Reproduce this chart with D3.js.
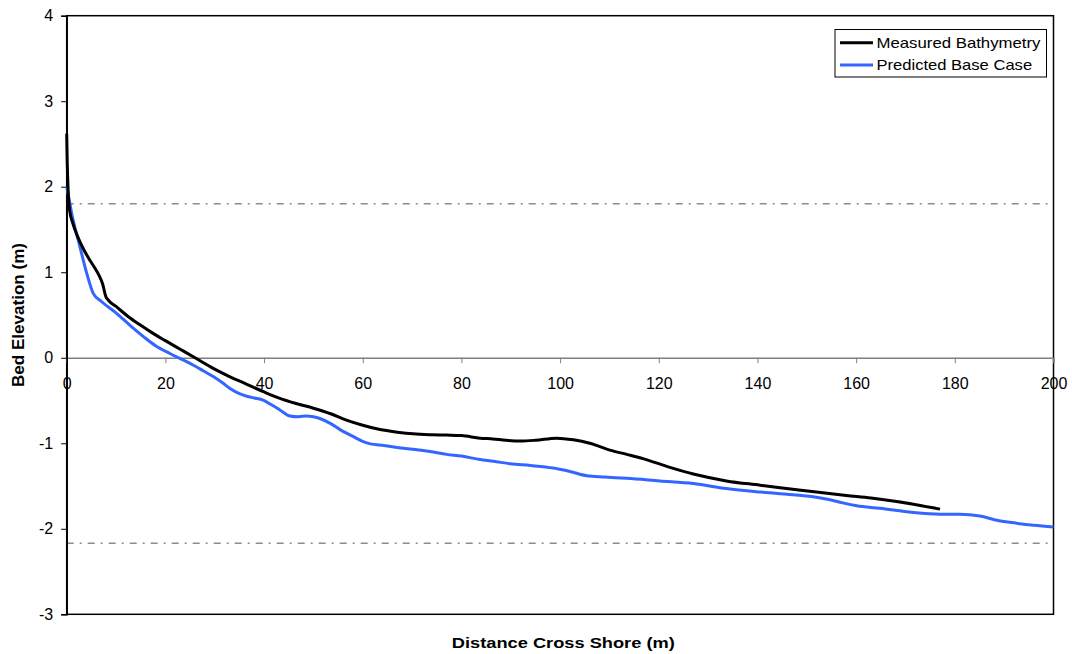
<!DOCTYPE html>
<html>
<head>
<meta charset="utf-8">
<script src="https://cdn.jsdelivr.net/npm/d3@7"></script>
<style>
  html, body { margin: 0; padding: 0; background: #fff; }
  svg { display: block; }
  text { font-family: "Liberation Sans", Arial, sans-serif; }
</style>
</head>
<body>
<svg id="chart" width="1072" height="654"></svg>
<script>
// Cross-shore profile: distance (m) and bed elevation (m)
const measuredX = [0, 0.1, 0.3, 0.6, 1.2, 2.2, 3.5, 4.7, 5.7, 6.5, 7.3, 7.9, 8.5, 10, 12.5, 15, 17.5, 20, 23, 26,
  29.7, 33, 36.5, 40, 43.2, 46.5, 50, 53.5, 56.7, 60, 63.5, 67, 70.2, 74, 77, 80, 83.8, 86.4, 89, 91.9, 95, 99.3,
  102.7, 106, 110.1, 113.5, 116.8, 121.6, 127, 133.7, 140.5, 144.6, 150.6, 158, 163, 168.2, 177];
const measuredY = [2.62, 2.3, 1.95, 1.72, 1.58, 1.42, 1.26, 1.14, 1.05, 0.97, 0.86, 0.72, 0.67, 0.6, 0.48, 0.38, 0.285, 0.2, 0.1, 0.0,
  -0.124, -0.22, -0.31, -0.4, -0.475, -0.535, -0.59, -0.655, -0.73, -0.79, -0.84, -0.87, -0.89, -0.9, -0.904, -0.91, -0.94, -0.95, -0.965, -0.974, -0.965, -0.94,
  -0.96, -1.0, -1.08, -1.13, -1.18, -1.27, -1.36, -1.44, -1.49, -1.52, -1.56, -1.61, -1.64, -1.68, -1.77];

const predictedX = [0, 0.5, 1.15, 2.5, 4.05, 5.4, 7.1, 10.1, 13, 15.5, 18, 20.9, 23, 25, 27, 29.7, 31.5, 33.1, 35, 36.5, 38, 39.8,
  41.5, 43.2, 45.2, 47, 48.6, 50, 51.3, 53.5, 55.4, 58, 60.1, 61.8, 63.5, 67, 70.2, 74, 77, 80, 83.8, 86.5, 89.9, 94, 98.6,
  102, 105.4, 109, 113.5, 120.2, 127, 133.7, 140.5, 144.6, 150.6, 154.7, 157.5, 160.1, 164.8, 171.5, 177, 181, 185.1, 188.5, 191.9, 196, 200];
const predictedY = [2.0, 1.85, 1.65, 1.34, 0.99, 0.75, 0.655, 0.52, 0.37, 0.25, 0.14, 0.05, -0.01, -0.065, -0.13, -0.22, -0.29, -0.36, -0.42, -0.45, -0.47, -0.495,
  -0.55, -0.61, -0.68, -0.69, -0.68, -0.69, -0.71, -0.77, -0.84, -0.92, -0.98, -1.01, -1.02, -1.05, -1.07, -1.1, -1.13, -1.15, -1.19, -1.21, -1.24, -1.26, -1.29,
  -1.33, -1.38, -1.395, -1.41, -1.44, -1.47, -1.53, -1.57, -1.59, -1.62, -1.66, -1.7, -1.73, -1.76, -1.81, -1.83, -1.83, -1.85, -1.9, -1.93, -1.96, -1.98];

// Reference water levels (dash-dot lines)
const levelLines = [1.8, -2.17];

const xTicks = [0, 20, 40, 60, 80, 100, 120, 140, 160, 180, 200];
const yTicks = [-3, -2, -1, 0, 1, 2, 3, 4];

const seriesNames = ["Measured Bathymetry", "Predicted Base Case"];
const seriesColors = ["#000000", "#3366ff"];

const svg = d3.select("#chart");
const plot = { left: 66.7, top: 15.7, right: 1053.5, bottom: 614.3 };

const x = d3.scaleLinear().domain([0, 200]).range([plot.left, plot.right]);
const y = d3.scaleLinear().domain([-3, 4]).range([plot.bottom, plot.top]);

// Frame
svg.append("rect")
  .attr("x", plot.left).attr("y", plot.top)
  .attr("width", plot.right - plot.left).attr("height", plot.bottom - plot.top)
  .attr("fill", "none").attr("stroke", "#000").attr("stroke-width", 1.5);

// Level lines
svg.selectAll("line.level").data(levelLines).enter().append("line")
  .attr("class", "level")
  .attr("x1", plot.left).attr("x2", plot.right)
  .attr("y1", d => y(d)).attr("y2", d => y(d))
  .attr("stroke", "#8c8c8c").attr("stroke-width", 1.5)
  .attr("stroke-dasharray", "7,6,2,6");

const plainNumber = d => String(d);

// X axis along zero elevation
const xAxis = d3.axisBottom(x).tickValues(xTicks).tickSize(5.5).tickPadding(14.4).tickFormat(plainNumber);
const gx = svg.append("g").attr("transform", `translate(0,${y(0)})`).call(xAxis);
gx.attr("font-size", 16).attr("font-family", "'Liberation Sans', Arial, sans-serif");
gx.select(".domain").attr("stroke", "#808080").attr("stroke-width", 1.5);
gx.selectAll(".tick line").attr("stroke", "#808080").attr("stroke-width", 1);
gx.selectAll(".tick text").attr("fill", "#000");

// Y axis
const yAxis = d3.axisLeft(y).tickValues(yTicks).tickSize(5.5).tickPadding(8).tickFormat(plainNumber);
const gy = svg.append("g").attr("transform", `translate(${plot.left},0)`).call(yAxis);
gy.attr("font-size", 16).attr("font-family", "'Liberation Sans', Arial, sans-serif");
gy.select(".domain").attr("stroke", "#000").attr("stroke-width", 1.5);
gy.selectAll(".tick line").attr("stroke", "#000").attr("stroke-width", 1);
gy.selectAll(".tick text").attr("fill", "#000");

// Profiles
const line = d3.line().x(d => x(d[0])).y(d => y(d[1])).curve(d3.curveMonotoneX);
const series = [
  d3.zip(measuredX, measuredY),
  d3.zip(predictedX, predictedY)
];
// draw predicted first so measured sits above it
[1, 0].forEach(i => {
  svg.append("path")
    .datum(series[i])
    .attr("d", line)
    .attr("fill", "none")
    .attr("stroke", seriesColors[i])
    .attr("stroke-width", 3)
    .attr("stroke-linejoin", "round");
});

// Axis titles
svg.append("text")
  .attr("x", 563.3).attr("y", 647.7)
  .attr("text-anchor", "middle").attr("font-size", 15.5).attr("font-weight", "bold")
  .attr("textLength", 223).attr("lengthAdjust", "spacingAndGlyphs")
  .text("Distance Cross Shore (m)");
svg.append("text")
  .attr("transform", `translate(24,315) rotate(-90)`)
  .attr("text-anchor", "middle").attr("font-size", 16).attr("font-weight", "bold")
  .attr("textLength", 144).attr("lengthAdjust", "spacingAndGlyphs")
  .text("Bed Elevation (m)");

// Legend
const legendWidths = [164, 155.6];
const legend = svg.append("g");
legend.append("rect")
  .attr("x", 835).attr("y", 29.5).attr("width", 211.5).attr("height", 47.5)
  .attr("fill", "#fff").attr("stroke", "#000").attr("stroke-width", 1);
seriesNames.forEach((name, i) => {
  const ly = 42.7 + i * 22.3;
  legend.append("line")
    .attr("x1", 840).attr("x2", 873).attr("y1", ly).attr("y2", ly)
    .attr("stroke", seriesColors[i]).attr("stroke-width", 3);
  legend.append("text")
    .attr("x", 876.5).attr("y", ly + 4.8)
    .attr("font-size", 14.5).attr("fill", "#000")
    .attr("textLength", legendWidths[i]).attr("lengthAdjust", "spacingAndGlyphs")
    .text(name);
});
</script>
</body>
</html>
